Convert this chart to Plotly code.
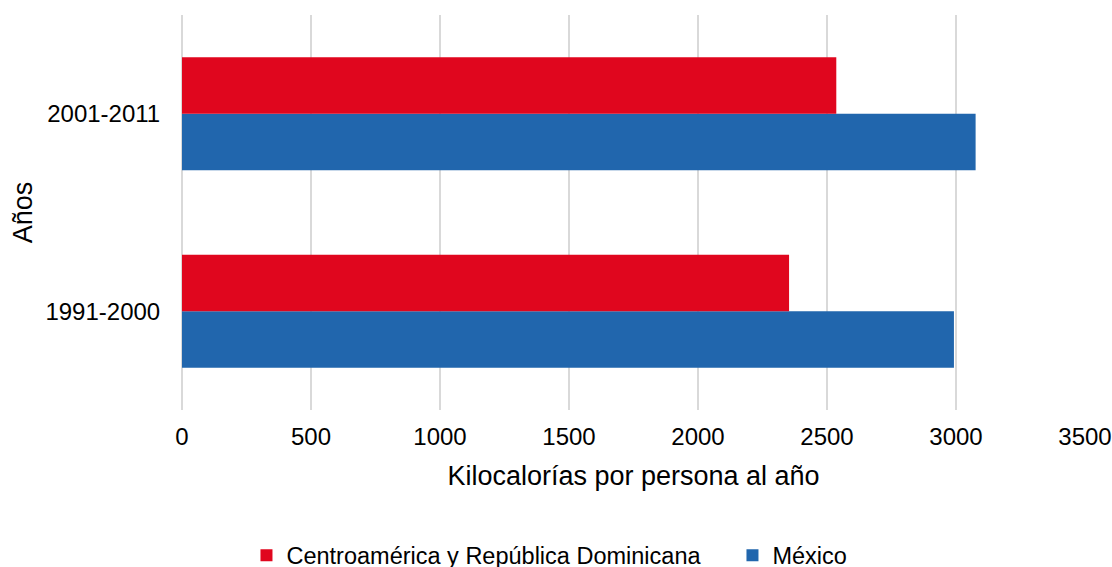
import plotly.graph_objects as go

# Consumo medio de energía alimentaria por periodo
periodos = ["1991-2000", "2001-2011"]
serie_ca = "Centroamérica y República Dominicana"
serie_mx = "México"
kcal_ca = [2353, 2536]
kcal_mx = [2992, 3076]

x_ticks = [0, 500, 1000, 1500, 2000, 2500, 3000, 3500]

ROJO = "#E0061E"
AZUL = "#2166AD"
FUENTE = "Liberation Sans, Arial, sans-serif"

fig = go.Figure()
# México first so it sits below the red bar inside each group
fig.add_trace(go.Bar(
    y=periodos, x=kcal_mx, name=serie_mx, orientation="h",
    marker=dict(color=AZUL, line=dict(width=0)),
    legend="legend2", showlegend=True,
))
fig.add_trace(go.Bar(
    y=periodos, x=kcal_ca, name=serie_ca, orientation="h",
    marker=dict(color=ROJO, line=dict(width=0)),
    legend="legend", showlegend=True,
))

leyenda = dict(
    orientation="h", xanchor="left", y=-0.368, yanchor="middle",
    font=dict(size=23.5, family=FUENTE), itemwidth=30,
    bgcolor="rgba(0,0,0,0)", visible=True,
)

fig.update_layout(
    width=1112, height=567,
    margin=dict(l=182, r=27, t=14.5, b=157, autoexpand=False),
    paper_bgcolor="white", plot_bgcolor="white",
    barmode="group", bargap=0.427, bargroupgap=0,
    font=dict(family=FUENTE, color="#000000"),
    showlegend=True,
    legend=dict(leyenda, x=0.0714),
    legend2=dict(leyenda, x=0.6096),
)

fig.update_xaxes(
    range=[0, 3500], tickvals=x_ticks,
    showgrid=True, gridcolor="#D9D9D9", gridwidth=1.5,
    zeroline=True, zerolinecolor="#D9D9D9", zerolinewidth=1.5,
    showline=False, ticks="outside", ticklen=5, tickcolor="rgba(0,0,0,0)",
    tickfont=dict(size=24, family=FUENTE),
    title=dict(text="Kilocalorías por persona al año",
               font=dict(size=27, family=FUENTE), standoff=17),
)
fig.update_yaxes(
    type="category", categoryorder="array", categoryarray=periodos,
    showgrid=False, zeroline=False, showline=False,
    ticks="outside", ticklen=16, tickcolor="rgba(0,0,0,0)",
    tickfont=dict(size=24, family=FUENTE),
    title=dict(text="Años", font=dict(size=27, family=FUENTE), standoff=4),
)

fig.write_html("out.html")
